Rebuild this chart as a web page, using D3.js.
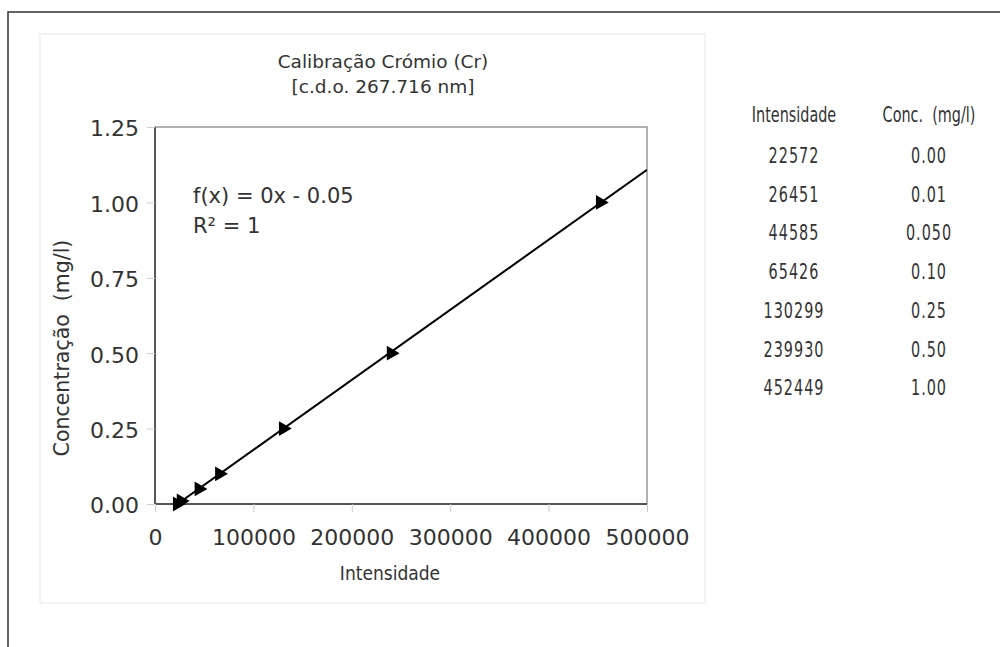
<!DOCTYPE html>
<html lang="pt">
<head>
<meta charset="utf-8">
<title>Calibração Crómio (Cr)</title>
<script src="https://d3js.org/d3.v7.min.js"></script>
<style>
  body { margin: 0; background: #fff; }
  svg text { font-family: "DejaVu Sans", sans-serif; fill: #333; }
</style>
</head>
<body>
<div id="chart"></div>
<script>
const width = 1000
const height = 647

const intensidade = [22572, 26451, 44585, 65426, 130299, 239930, 452449]
const concentracao = [0.00, 0.01, 0.05, 0.10, 0.25, 0.50, 1.00]
const concLabels = ['0.00', '0.01', '0.050', '0.10', '0.25', '0.50', '1.00']
const xTicks = [0, 100000, 200000, 300000, 400000, 500000]
const yTicks = [0, 0.25, 0.5, 0.75, 1.0, 1.25]

const plot = { left: 155, top: 127, right: 647, bottom: 504 }

const svg = d3.select('#chart').append('svg')
  .attr('width', width)
  .attr('height', height)

// outer frame (top and left edge only visible)
svg.append('path')
  .attr('d', `M8,${height} L8,12 L${width},12`)
  .attr('fill', 'none')
  .attr('stroke', '#333')
  .attr('stroke-width', 1.5)

// chart panel
svg.append('rect')
  .attr('x', 40).attr('y', 34)
  .attr('width', 665).attr('height', 569)
  .attr('fill', '#fff')
  .attr('stroke', '#e8e8e8')

const xScale = d3.scaleLinear()
  .domain([0, 500000])
  .range([plot.left, plot.right])

const yScale = d3.scaleLinear()
  .domain([0, 1.25])
  .range([plot.bottom, plot.top])

// plot frame
svg.append('rect')
  .attr('x', plot.left).attr('y', plot.top)
  .attr('width', plot.right - plot.left)
  .attr('height', plot.bottom - plot.top)
  .attr('fill', 'none')
  .attr('stroke', '#999')
  .attr('stroke-width', 1.5)

const xAxis = d3.axisBottom(xScale)
  .tickValues(xTicks)
  .tickSize(8)
  .tickPadding(17)
  .tickFormat(d3.format('d'))

const yAxis = d3.axisLeft(yScale)
  .tickValues(yTicks)
  .tickSize(8)
  .tickPadding(8)
  .tickFormat(d3.format('.2f'))

const gx = svg.append('g')
  .attr('transform', `translate(0, ${plot.bottom})`)
  .call(xAxis)
const gy = svg.append('g')
  .attr('transform', `translate(${plot.left}, 0)`)
  .call(yAxis)

for (const g of [gx, gy]) {
  g.select('.domain').attr('stroke', '#555').attr('stroke-width', 2)
  g.selectAll('.tick line').attr('stroke', '#ccc')
  g.selectAll('.tick text')
    .attr('fill', '#333')
    .style('font-size', '22px')
    .style('font-family', '"DejaVu Sans", sans-serif')
}
gx.select('.domain').attr('d', `M${plot.left},0H${plot.right}`)
gy.select('.domain').attr('d', `M0,${plot.bottom}V${plot.top}`)
gx.selectAll('.tick text').attr('dy', '0.71em')
gy.selectAll('.tick text').attr('dy', '0.4em')

// regression line (least squares)
const n = intensidade.length
const mx = d3.mean(intensidade)
const my = d3.mean(concentracao)
let sxy = 0, sxx = 0
for (let i = 0; i < n; i++) {
  sxy += (intensidade[i] - mx) * (concentracao[i] - my)
  sxx += (intensidade[i] - mx) ** 2
}
const slope = sxy / sxx
const intercept = my - slope * mx

svg.append('clipPath').attr('id', 'clip')
  .append('rect')
  .attr('x', plot.left).attr('y', plot.top)
  .attr('width', plot.right - plot.left)
  .attr('height', plot.bottom - plot.top)

const x0 = -intercept / slope
svg.append('line')
  .attr('clip-path', 'url(#clip)')
  .attr('x1', xScale(x0)).attr('y1', yScale(0))
  .attr('x2', xScale(500000)).attr('y2', yScale(slope * 500000 + intercept))
  .attr('stroke', '#000')
  .attr('stroke-width', 2)

// points: right-pointing triangles
const tri = d3.symbol().type(d3.symbolTriangle).size(95)
svg.append('g')
  .selectAll('path')
  .data(intensidade.map((d, i) => ({ x: d, y: concentracao[i] })))
  .join('path')
  .attr('d', tri)
  .attr('transform', d => `translate(${xScale(d.x)}, ${yScale(d.y)}) rotate(90)`)
  .attr('fill', '#000')

// equation
svg.append('text')
  .attr('x', 193).attr('y', 203)
  .style('font-size', '21px')
  .text('f(x) = 0x - 0.05')
svg.append('text')
  .attr('x', 193).attr('y', 233)
  .style('font-size', '21px')
  .text('R² = 1')

// titles
svg.append('text')
  .attr('x', 383).attr('y', 68)
  .attr('text-anchor', 'middle')
  .style('font-size', '18.5px')
  .text('Calibração Crómio (Cr)')
svg.append('text')
  .attr('x', 383).attr('y', 93)
  .attr('text-anchor', 'middle')
  .style('font-size', '18.5px')
  .text('[c.d.o. 267.716 nm]')

svg.append('text')
  .attr('x', 390).attr('y', 580)
  .attr('text-anchor', 'middle')
  .style('font-family', '"DejaVu Sans Condensed", sans-serif')
  .style('font-size', '19px')
  .text('Intensidade')

svg.append('text')
  .attr('transform', 'translate(69, 348) rotate(-90)')
  .attr('text-anchor', 'middle')
  .attr('xml:space', 'preserve')
  .style('font-size', '20.5px')
  .text('Concentração  (mg/l)')

// side table (tall, narrow lettering)
const table = svg.append('g')
const col1 = 794, col2 = 929
const tableText = (x, y, s, font, spacing) => table.append('text')
  .attr('transform', `translate(${x}, ${y}) scale(1, 1.35)`)
  .attr('text-anchor', 'middle')
  .attr('xml:space', 'preserve')
  .style('font-family', font)
  .style('font-size', '16px')
  .style('letter-spacing', spacing)
  .text(s)

tableText(col1, 122, 'Intensidade', '"DejaVu Sans Condensed", sans-serif', '0px')
tableText(col2, 122, 'Conc.  (mg/l)', '"DejaVu Sans Condensed", sans-serif', '0px')

const rowY = d3.scaleLinear().domain([0, 1]).range([163, 201.7])
intensidade.forEach((d, i) => {
  tableText(col1, rowY(i), String(d), '"DejaVu Sans Condensed", sans-serif', '1px')
  tableText(col2, rowY(i), concLabels[i], '"DejaVu Sans Condensed", sans-serif', '1px')
})
</script>
</body>
</html>
